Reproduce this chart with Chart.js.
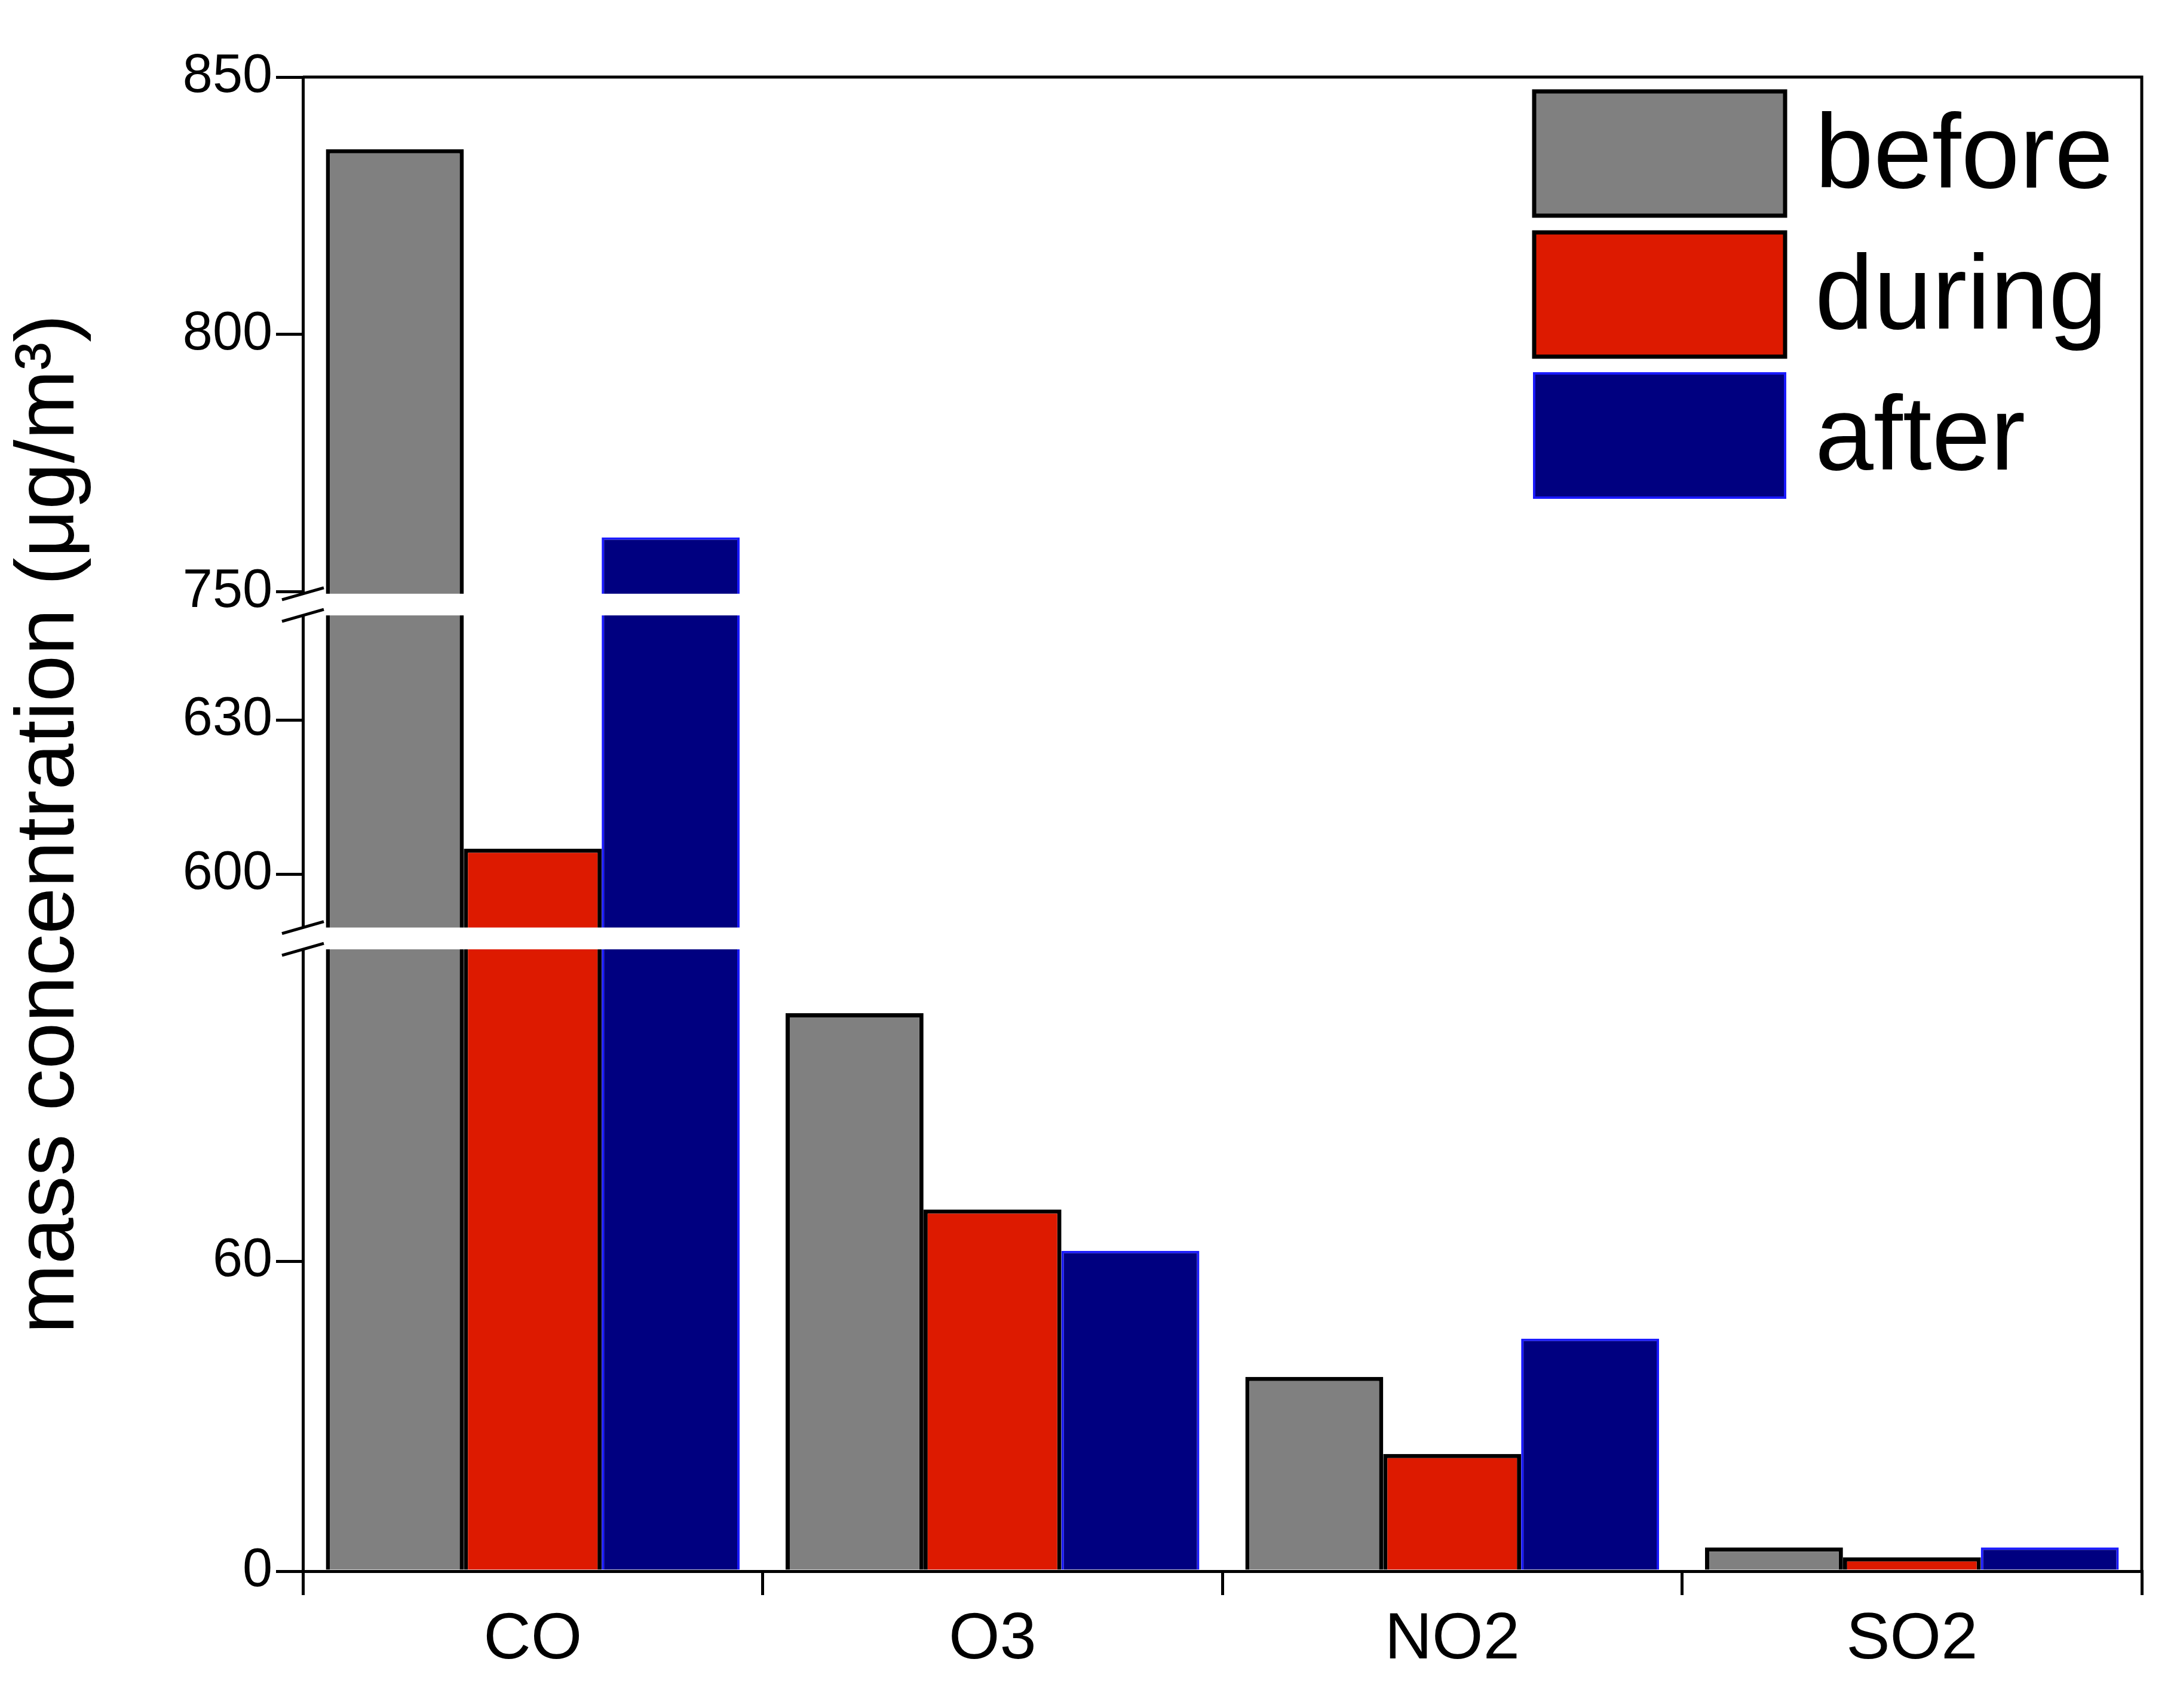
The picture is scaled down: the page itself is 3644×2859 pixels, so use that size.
<!DOCTYPE html>
<html><head><meta charset="utf-8">
<script src="https://cdn.jsdelivr.net/npm/chart.js@4/dist/chart.umd.min.js"></script>
<style>html,body{margin:0;padding:0;background:#fff}#c{display:block}</style>
</head><body>
<div style="width:3644px;height:2859px"><canvas id="c"></canvas></div>
<script>
const categories = ['CO','O3','NO2','SO2'];
const before = [836, 108, 37.6, 4.6];
const during = [605, 70, 22.7, 2.7];
const after = [760.6, 62, 45, 4.6];
const yTicks = [0, 60, 600, 630, 750, 800, 850];
// axis segments [value range] -> [fraction range]
const segments = [
  {v0:0, v1:120, f0:0, f1:0.415},
  {v0:120, v1:590, f0:0.415, f1:0.432},
  {v0:590, v1:650, f0:0.432, f1:0.6385},
  {v0:650, v1:750, f0:0.6385, f1:0.6554},
  {v0:750, v1:850, f0:0.6554, f1:1}
];
function frac(v){
  for (const s of segments){ if (v<=s.v1) return s.f0+(v-s.v0)/(s.v1-s.v0)*(s.f1-s.f0); }
  return 1;
}
function unfrac(f){
  for (const s of segments){ if (f<=s.f1) return s.v0+(f-s.f0)/(s.f1-s.f0)*(s.v1-s.v0); }
  return 850;
}
class BrokenScale extends Chart.LinearScale {
  buildTicks(){ return yTicks.map(v=>({value:v})); }
  getPixelForValue(v){ return this.bottom - frac(v)*(this.bottom-this.top); }
  getValueForPixel(p){ return unfrac((this.bottom-p)/(this.bottom-this.top)); }
}
BrokenScale.id='broken';
BrokenScale.defaults = Chart.LinearScale.defaults;
Chart.register(BrokenScale);

const FONT = 'Liberation Sans, Arial, sans-serif';
const decor = {
  id:'decor',
  afterDraw(chart){
    const {ctx, chartArea:a, scales:{y}} = chart;
    ctx.save();
    // breaks
    [[120,590],[650,750]].forEach(([lo,hi])=>{
      const p1 = y.getPixelForValue(hi), p0 = y.getPixelForValue(lo);
      ctx.fillStyle='#fff';
      ctx.fillRect(a.left-30, p1+3, a.right-a.left+26, p0-p1-6);
      ctx.strokeStyle='#000'; ctx.lineWidth=5;
      [p1+3,p0-3].forEach(py=>{
        ctx.beginPath(); ctx.moveTo(a.left-35, py+10); ctx.lineTo(a.left+35, py-10); ctx.stroke();
      });
    });
    // frame
    ctx.strokeStyle='#000'; ctx.lineWidth=5;
    ctx.beginPath(); ctx.moveTo(a.left,a.top); ctx.lineTo(a.right,a.top); ctx.lineTo(a.right,a.bottom); ctx.stroke();
    // legend
    const ds = chart.data.datasets;
    const bx = 2568, bw = 420, bh = 208, by0 = 153;
    ctx.font = '176px '+FONT; ctx.textBaseline='middle'; ctx.textAlign='left';
    ds.forEach((d,i)=>{
      const by = by0 + i*236;
      ctx.fillStyle=d.backgroundColor; ctx.fillRect(bx,by,bw,bh);
      ctx.strokeStyle=d.borderColor; ctx.lineWidth=d.borderWidth; ctx.strokeRect(bx,by,bw,bh);
      ctx.fillStyle='#000'; ctx.fillText(d.label, bx+bw+50, by+bh/2+8);
    });
    ctx.restore();
  }
};
new Chart(document.getElementById('c'), {
  type:'bar',
  data:{labels:categories, datasets:[
    {label:'before', data:before, backgroundColor:'#808080', borderColor:'#000', borderWidth:7},
    {label:'during', data:during, backgroundColor:'#dd1a00', borderColor:'#000', borderWidth:7},
    {label:'after', data:after, backgroundColor:'#000080', borderColor:'#1a1aff', borderWidth:4}
  ]},
  options:{
    responsive:true, maintainAspectRatio:false, animation:false,
    layout:{padding:{top:129,right:59,left:0,bottom:0}},
    plugins:{legend:{display:false}, tooltip:{enabled:false}},
    datasets:{bar:{categoryPercentage:0.9, barPercentage:1, borderSkipped:'bottom'}},
    scales:{
      x:{
        grid:{drawOnChartArea:false, drawTicks:true, tickLength:40, tickColor:'#000', lineWidth:5, offset:true},
        border:{color:'#000', width:5},
        ticks:{color:'#000', font:{family:FONT, size:110}, padding:10},
        afterFit(s){ s.height = 229; }
      },
      y:{
        type:'broken', min:0, max:850,
        grid:{drawOnChartArea:false, drawTicks:true, tickLength:45, tickColor:'#000', lineWidth:5},
        border:{color:'#000', width:5},
        ticks:{color:'#000', font:{family:FONT, size:90}, padding:6},
        title:{display:true, text:'mass concentration (μg/m³)', color:'#000', font:{family:FONT, size:140}, padding:{top:0,bottom:10}},
        afterFit(s){ s.width = 507; }
      }
    }
  },
  plugins:[decor]
});
</script>
</body></html>
